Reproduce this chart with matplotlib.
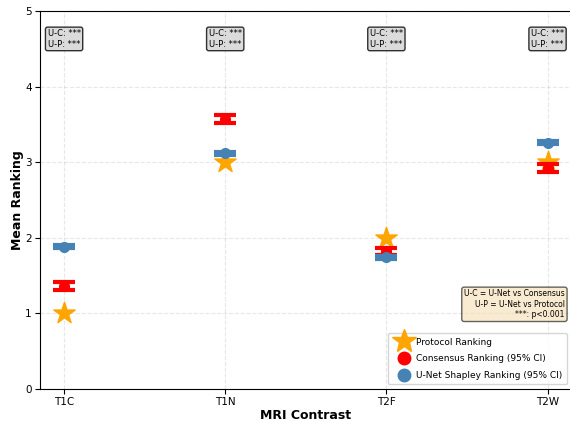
import numpy as np
import matplotlib.pyplot as plt
from matplotlib.lines import Line2D

contrasts = ['T1C', 'T1N', 'T2F', 'T2W']
protocol_rank = [1, 3, 2, 3]
consensus_mean = [1.36, 3.57, 1.82, 2.92]
consensus_lo = [1.31, 3.52, 1.77, 2.87]
consensus_hi = [1.41, 3.62, 1.87, 2.97]
unet_mean = [1.88, 3.12, 1.74, 3.26]
unet_lo = [1.86, 3.10, 1.72, 3.24]
unet_hi = [1.90, 3.14, 1.76, 3.28]
sig_uc = ['***', '***', '***', '***']
sig_up = ['***', '***', '***', '***']

x = np.arange(len(contrasts))
cons = np.array(consensus_mean)
unet = np.array(unet_mean)
cons_err = [cons - np.array(consensus_lo), np.array(consensus_hi) - cons]
unet_err = [unet - np.array(unet_lo), np.array(unet_hi) - unet]

fig, ax = plt.subplots(figsize=(5.7, 4.21), dpi=100)

ax.scatter(x, protocol_rank, marker='*', s=260, color='orange', zorder=3)
ax.errorbar(x, cons, yerr=cons_err, fmt='o', color='red', markersize=7,
            elinewidth=3, capsize=8, capthick=3, zorder=4)
ax.errorbar(x, unet, yerr=unet_err, fmt='o', color='steelblue', markersize=7,
            elinewidth=3, capsize=8, capthick=3, zorder=5)

for i in range(len(contrasts)):
    ax.text(x[i], 4.63, 'U-C: {}\nU-P: {}'.format(sig_uc[i], sig_up[i]),
            ha='center', va='center', fontsize=6,
            bbox=dict(boxstyle='round,pad=0.25', facecolor='lightgray',
                      edgecolor='black', alpha=0.8))

ax.text(0.987, 0.224, 'U-C = U-Net vs Consensus\nU-P = U-Net vs Protocol\n***: p<0.001',
        transform=ax.transAxes, ha='right', va='center', fontsize=5.5,
        multialignment='right',
        bbox=dict(boxstyle='round,pad=0.3', facecolor='wheat',
                  edgecolor='black', alpha=0.6))

ax.set_xticks(x)
ax.set_xticklabels(contrasts, fontsize=7.5)
ax.tick_params(axis='y', labelsize=7.5)
ax.tick_params(axis='both', pad=2.5)
ax.set_xlim(-0.15, 3.15)
ax.set_ylim(0, 5)
ax.set_xlabel('MRI Contrast', fontsize=9, fontweight='bold', labelpad=1)
ax.set_ylabel('Mean Ranking', fontsize=9, fontweight='bold', labelpad=1)
ax.grid(True, linestyle='--', alpha=0.3)

handles = [
    Line2D([], [], marker='*', color='orange', linestyle='None', markersize=18,
           label='Protocol Ranking'),
    Line2D([], [], marker='o', color='red', linestyle='None', markersize=9,
           label='Consensus Ranking (95% CI)'),
    Line2D([], [], marker='o', color='steelblue', linestyle='None', markersize=9,
           label='U-Net Shapley Ranking (95% CI)'),
]
ax.legend(handles=handles, loc='lower right', fontsize=6.5,
          handletextpad=0.2, handlelength=2.4, borderaxespad=0.5,
          labelspacing=0.85, borderpad=0.5)

fig.subplots_adjust(left=0.07, right=1.003, bottom=0.076, top=0.974)
plt.savefig('out.png')
